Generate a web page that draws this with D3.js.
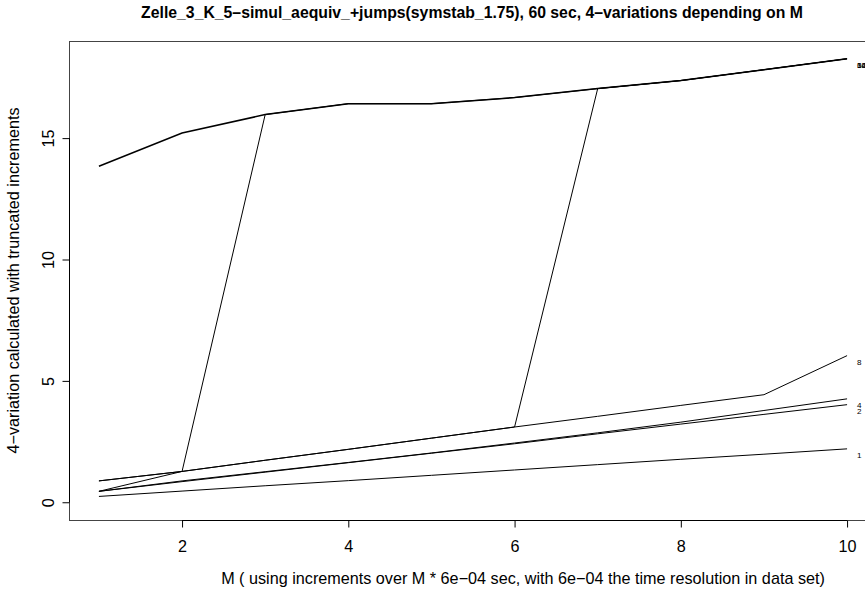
<!DOCTYPE html>
<html>
<head>
<meta charset="utf-8">
<script src="https://cdn.jsdelivr.net/npm/d3@7"></script>
<style>
  body { margin: 0; background: #fff; }
  svg { display: block; font-family: "Liberation Sans", Arial, Helvetica, sans-serif; }
  .line { fill: none; stroke: #000; stroke-width: 1; }
  .line.top { stroke-width: 1.5; }
</style>
</head>
<body>
<div id="chart"></div>
<script>
/*
** Data
*/
var mValues = [1, 2, 3, 4, 5, 6, 7, 8, 9, 10]
  , seriesNames = ["1", "2", "4", "8", "16", "32", "64"]
  , s1   = [0.24, 0.46, 0.68, 0.89, 1.11, 1.33, 1.55, 1.77, 1.98, 2.20]
  , s2   = [0.45, 0.85, 1.24, 1.63, 2.02, 2.41, 2.82, 3.22, 3.62, 4.02]
  , s4   = [0.45, 0.88, 1.26, 1.64, 2.03, 2.44, 2.86, 3.30, 3.78, 4.26]
  , s8   = [0.88, 1.27, 1.73, 2.18, 2.64, 3.10, 3.54, 3.99, 4.43, 6.04]
  , s16  = [0.88, 1.27, 1.73, 2.18, 2.64, 3.10, 17.04, 17.37, 17.82, 18.27]
  , s32  = [0.45, 1.27, 15.97, 16.42, 16.42, 16.67, 17.04, 17.37, 17.82, 18.27]
  , s64  = [13.84, 15.21, 15.97, 16.42, 16.42, 16.67, 17.04, 17.37, 17.82, 18.27]
  , seriesValues = [s1, s2, s4, s8, s16, s32, s64]
  , xTicks = [2, 4, 6, 8, 10]
  , yTicks = [0, 5, 10, 15]
  , yLimits = [0, 18.27]
  , title = "Zelle_3_K_5\u2013simul_aequiv_+jumps(symstab_1.75), 60 sec, 4\u2013variations depending on M"
  , xLabel = "M ( using increments over M * 6e\u221204 sec, with 6e\u221204 the time resolution in data set)"
  , yLabel = "4\u2212variation calculated with truncated increments"
;

/*
** Layout
*/
var width = 865
  , height = 590
  , plot = { left: 69, right: 877, top: 41, bottom: 520 }
  , tickLen = 7
;

// R style 4% expansion of the data range
function expand(lim) {
    var d = (lim[1] - lim[0]) * 0.04;
    return [lim[0] - d, lim[1] + d];
}

var x = d3.scaleLinear()
      .domain(expand(d3.extent(mValues)))
      .range([plot.left, plot.right])
  , y = d3.scaleLinear()
      .domain(expand(yLimits))
      .range([plot.bottom, plot.top])
;

var svg = d3.select("#chart").append("svg")
    .attr("width", width)
    .attr("height", height)
;

// fit a text element to a horizontal span measured on the reference
function fitText(sel, span) {
    var w = sel.node().getComputedTextLength()
      , fs = parseFloat(sel.attr("font-size"))
    ;
    sel.attr("font-size", (fs * span / w).toFixed(2));
    return fs * span / w;
}

/*
** Lines
*/
var line = d3.line()
    .x(function(d, i) { return x(mValues[i]); })
    .y(function(d) { return y(d); })
;
svg.append("g")
    .attr("class", "lines")
  .selectAll("path")
    .data(seriesValues)
  .enter().append("path")
    .attr("class", function(d) { return d[0] > 10 ? "line top" : "line"; })
    .attr("d", line)
;

/*
** Box and axes
*/
svg.append("rect")
    .attr("x", plot.left + 0.5)
    .attr("y", plot.top + 0.5)
    .attr("width", plot.right - plot.left)
    .attr("height", plot.bottom - plot.top)
    .attr("fill", "none")
    .attr("stroke", "#444")
;

var xAxis = d3.axisBottom(x)
      .tickValues(xTicks)
      .tickSize(tickLen)
      .tickSizeOuter(0)
      .tickFormat(d3.format("d"))
  , yAxis = d3.axisLeft(y)
      .tickValues(yTicks)
      .tickSize(tickLen)
      .tickSizeOuter(0)
      .tickFormat(d3.format("d"))
;

var gx = svg.append("g")
    .attr("transform", "translate(0," + (plot.bottom + 0.5) + ")")
    .call(xAxis)
  , gy = svg.append("g")
    .attr("transform", "translate(" + (plot.left + 0.5) + ",0)")
    .call(yAxis)
;

/*
** Titles
*/
var tTitle = svg.append("text")
    .attr("x", 472)
    .attr("y", 12)
    .attr("text-anchor", "middle")
    .attr("dominant-baseline", "central")
    .attr("font-weight", "bold")
    .attr("font-size", 12)
    .text(title)
;
fitText(tTitle, 662);

var tX = svg.append("text")
    .attr("x", 523)
    .attr("y", 578)
    .attr("text-anchor", "middle")
    .attr("dominant-baseline", "central")
    .attr("font-size", 11)
    .text(xLabel)
;
var labSize = fitText(tX, 604);

svg.append("text")
    .attr("transform", "translate(13," + ((plot.top + plot.bottom) / 2) + ") rotate(-90)")
    .attr("text-anchor", "middle")
    .attr("dominant-baseline", "central")
    .attr("font-size", labSize)
    .text(yLabel)
;

// R look for the axes
gx.attr("font-family", null);
gx.select(".domain")
    .attr("d", "M" + x(xTicks[0]) + ",0H" + x(xTicks[xTicks.length - 1]))
    .attr("stroke", "#000");
gx.selectAll(".tick text")
    .attr("y", 0)
    .attr("dy", null)
    .attr("transform", "translate(0,25)")
    .attr("dominant-baseline", "central")
    .attr("font-size", labSize)
    .attr("fill", "#000");

gy.attr("font-family", null);
gy.select(".domain")
    .attr("d", "M0," + y(yTicks[0]) + "V" + y(yTicks[yTicks.length - 1]))
    .attr("stroke", "#000");
gy.selectAll(".tick text")
    .attr("x", 0)
    .attr("dy", null)
    .attr("text-anchor", "middle")
    .attr("dominant-baseline", "central")
    .attr("transform", "translate(-22,0) rotate(-90)")
    .attr("font-size", labSize)
    .attr("fill", "#000");

/*
** Series labels at the right end (the top ones overprint, as in the original)
*/
svg.append("g")
    .attr("class", "series-labels")
  .selectAll("text")
    .data(seriesValues)
  .enter().append("text")
    .attr("x", x(10.12))
    .attr("y", function(d) { return y(d[d.length - 1]) + 7; })
    .attr("dominant-baseline", "central")
    .attr("font-size", labSize / 2)
    .text(function(d, i) { return seriesNames[i]; })
;
</script>
</body>
</html>
